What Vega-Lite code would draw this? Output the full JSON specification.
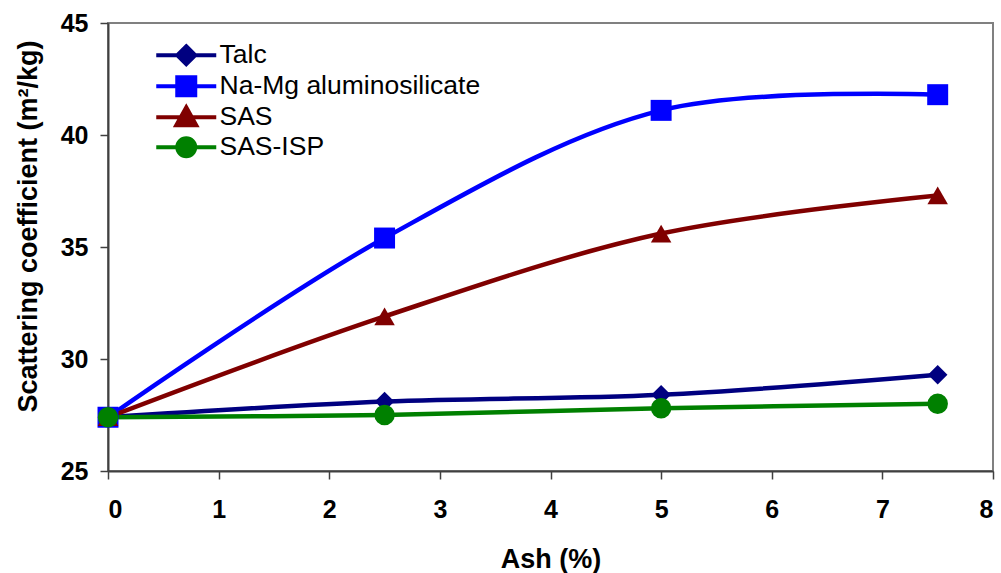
{
  "$schema": "https://vega.github.io/schema/vega-lite/v6.json",
  "autosize": {"type": "none"},
  "padding": {"left": 108, "top": 23, "right": 8, "bottom": 102},
  "width": 885,
  "height": 448,
  "background": "white",
  "config": {
    "view": {"stroke": "#808080", "strokeWidth": 2},
    "font": "Liberation Sans",
    "axis": {
      "grid": false,
      "domainColor": "#404040",
      "domainWidth": 2,
      "tickColor": "#404040",
      "tickWidth": 1.5,
      "tickSize": 8,
      "labelFont": "Liberation Sans",
      "labelFontWeight": "bold",
      "labelFontSize": 25,
      "labelColor": "black",
      "titleFont": "Liberation Sans",
      "titleFontWeight": "bold",
      "titleFontSize": 27,
      "titleColor": "black"
    }
  },
  "data": {
    "values": [
      {"series": "Talc", "ash": 0, "sc": 27.4},
      {"series": "Talc", "ash": 2.5, "sc": 28.1},
      {"series": "Talc", "ash": 5, "sc": 28.4},
      {"series": "Talc", "ash": 7.5, "sc": 29.3},
      {"series": "Na-Mg aluminosilicate", "ash": 0, "sc": 27.4},
      {"series": "Na-Mg aluminosilicate", "ash": 2.5, "sc": 35.4},
      {"series": "Na-Mg aluminosilicate", "ash": 5, "sc": 41.1},
      {"series": "Na-Mg aluminosilicate", "ash": 7.5, "sc": 41.8},
      {"series": "SAS", "ash": 0, "sc": 27.4},
      {"series": "SAS", "ash": 2.5, "sc": 31.9},
      {"series": "SAS", "ash": 5, "sc": 35.6},
      {"series": "SAS", "ash": 7.5, "sc": 37.3},
      {"series": "SAS-ISP", "ash": 0, "sc": 27.4},
      {"series": "SAS-ISP", "ash": 2.5, "sc": 27.5},
      {"series": "SAS-ISP", "ash": 5, "sc": 27.8},
      {"series": "SAS-ISP", "ash": 7.5, "sc": 28.0}
    ]
  },
  "encoding": {
    "x": {
      "field": "ash", "type": "quantitative",
      "scale": {"domain": [0, 8], "nice": false},
      "axis": {"values": [0, 1, 2, 3, 4, 5, 6, 7, 8], "title": "Ash (%)", "labelPadding": 18, "titleY": 96, "titleBaseline": "alphabetic"}
    },
    "y": {
      "field": "sc", "type": "quantitative",
      "scale": {"domain": [25, 45], "nice": false, "zero": false},
      "axis": {"values": [25, 30, 35, 40, 45], "title": "Scattering coefficient (m²/kg)", "labelPadding": 12, "titleX": -80, "titleY": 203, "titleAngle": -90, "titleAlign": "center", "titleBaseline": "middle"}
    }
  },
  "layer": [
    {
      "mark": {"type": "line", "interpolate": "catmull-rom", "strokeWidth": 4.5},
      "encoding": {
        "color": {
          "field": "series", "type": "nominal",
          "scale": {
            "domain": ["Talc", "Na-Mg aluminosilicate", "SAS", "SAS-ISP"],
            "range": ["#000080", "#0000FF", "#800000", "#008000"]
          },
          "legend": {
            "orient": "none",
            "legendX": 65,
            "legendY": 19,
            "title": null,
            "symbolSize": 400,
            "symbolStrokeWidth": 4,
            "labelFont": "Liberation Sans",
            "labelFontSize": 26.5,
            "labelColor": "black",
            "labelLimit": 500,
            "labelOffset": 20,
            "rowPadding": -8,
            "encode": {
              "symbols": {
                "update": {
                  "shape": {"signal": "datum.value === 'Talc' ? 'M-3,0L3,0M0,-0.9L0.9,0L0,0.9L-0.9,0Z' : datum.value === 'Na-Mg aluminosilicate' ? 'M-3,0L3,0M-0.9,-0.9L0.9,-0.9L0.9,0.9L-0.9,0.9Z' : datum.value === 'SAS' ? 'M-3,0L3,0M0,-1L1,0.8L-1,0.8Z' : 'M-3,0L3,0M-0.9,0A0.9,0.9 0 1,0 0.9,0A0.9,0.9 0 1,0 -0.9,0Z'"},
                  "fill": {"scale": "color", "field": "value"},
                  "stroke": {"scale": "color", "field": "value"},
                  "strokeWidth": {"value": 4},
                  "opacity": {"value": 1}
                }
              }
            }
          }
        }
      }
    },
    {
      "transform": [{"filter": "datum.series === 'Talc'"}],
      "mark": {"type": "point", "filled": true, "opacity": 1, "shape": "diamond", "size": 380, "color": "#000080"}
    },
    {
      "transform": [{"filter": "datum.series === 'Na-Mg aluminosilicate'"}],
      "mark": {"type": "point", "filled": true, "opacity": 1, "shape": "square", "size": 440, "color": "#0000FF"}
    },
    {
      "transform": [{"filter": "datum.series === 'SAS'"}],
      "mark": {"type": "point", "filled": true, "opacity": 1, "shape": "triangle-up", "size": 420, "color": "#800000"}
    },
    {
      "transform": [{"filter": "datum.series === 'SAS-ISP'"}],
      "mark": {"type": "point", "filled": true, "opacity": 1, "shape": "circle", "size": 420, "color": "#008000"}
    }
  ]
}
